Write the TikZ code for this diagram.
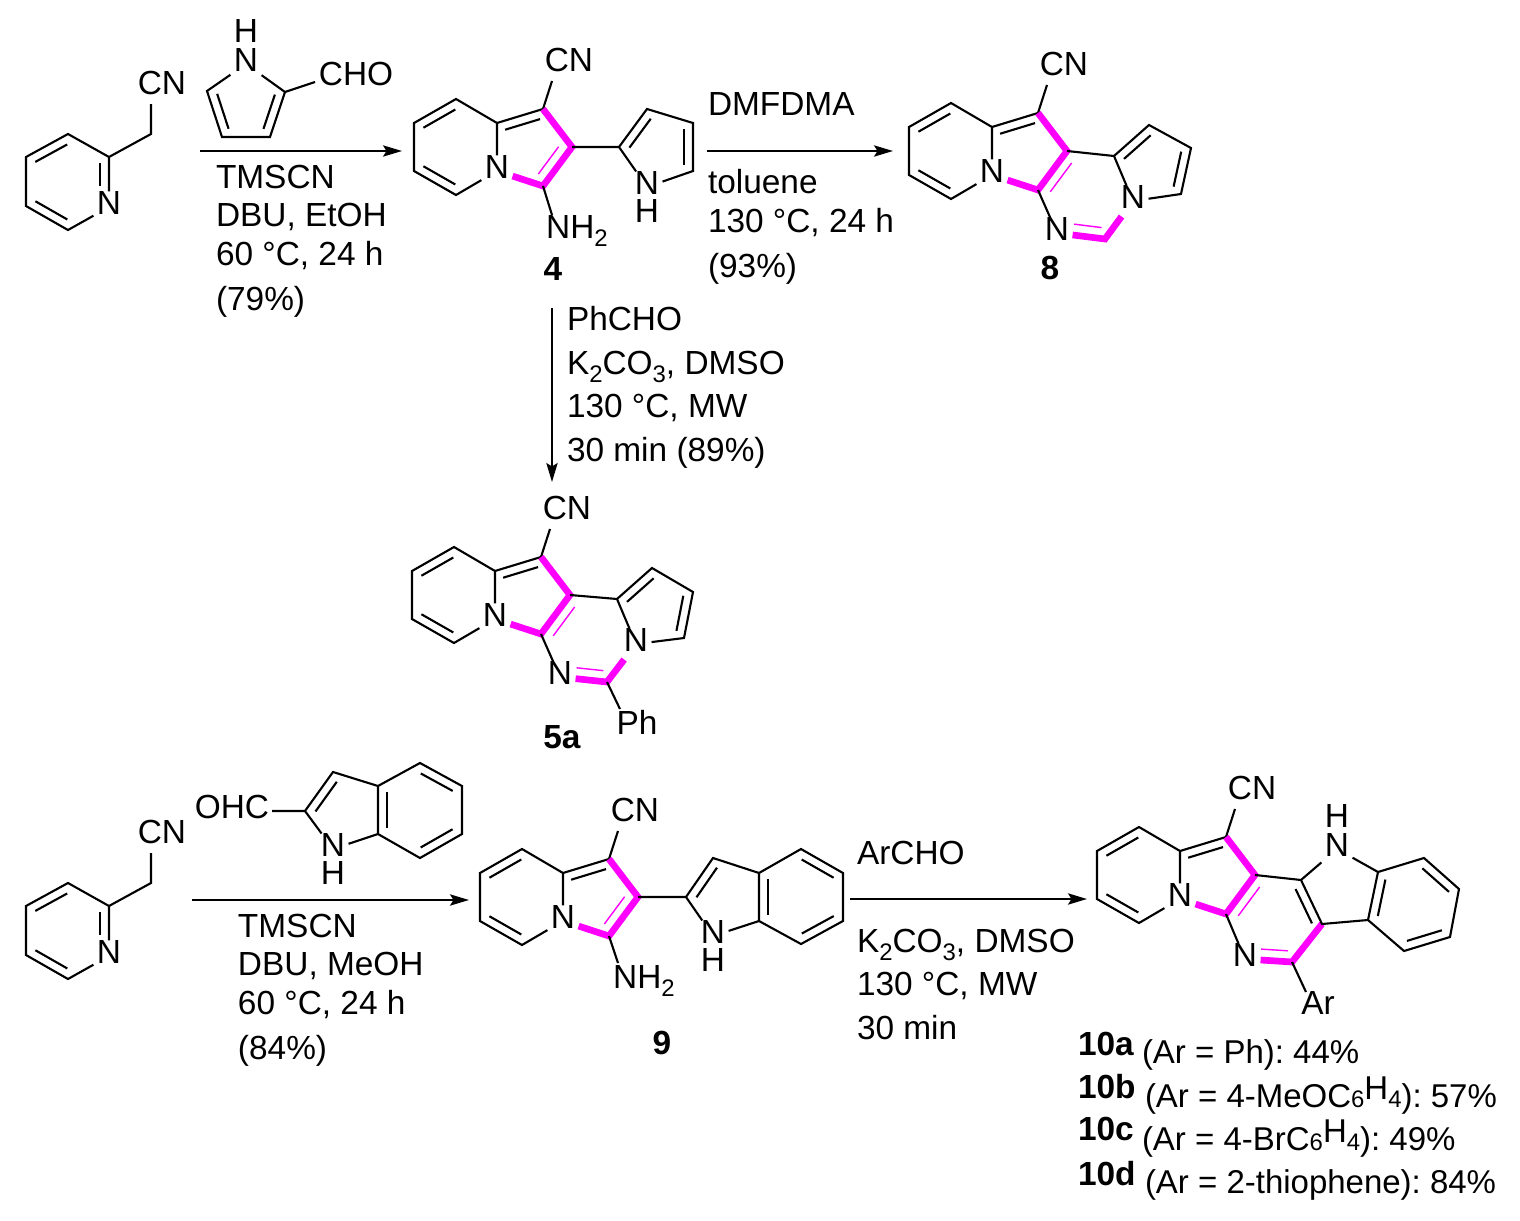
\documentclass[tikz,border=0pt]{standalone}
\usepackage{fontspec}
\setmainfont{Liberation Sans}
\usetikzlibrary{calc}
\usetikzlibrary{arrows.meta}
\definecolor{magenta}{RGB}{255,0,255}
\frenchspacing
% second line of a double bond, on the right of a -> b
\newcommand{\dbl}[4]{\draw[bond] ($(#1)!#3!(#2)!2.5pt!-90:(#2)$) -- ($(#1)!#4!(#2)!2.5pt!-90:(#2)$);}
\newcommand{\mdbl}[4]{\draw[tbond] ($(#1)!#3!(#2)!3.1pt!-90:(#2)$) -- ($(#1)!#4!(#2)!3.1pt!-90:(#2)$);}
\newcommand{\subt}[2][-2.3pt]{\raisebox{#1}{\fontsize{6.8}{7}\selectfont #2}}

\begin{document}
\begin{tikzpicture}[x=0.01cm, y=-0.01cm, >={Stealth[length=5.4pt,width=3.2pt,inset=1pt]},
every node/.style={font=\fontsize{9.5}{11}\selectfont},
bond/.style={line width=0.6pt},
hbond/.style={magenta,line width=1.9pt},
tbond/.style={magenta,line width=0.4pt},
atom/.style={inner xsep=1pt,inner ysep=0pt,outer sep=0pt,text depth=2.3pt},
hyd/.style={atom,text depth=0pt},
num/.style={atom,font=\fontsize{9.5}{11}\selectfont\bfseries},
txt/.style={anchor=base west,inner sep=0pt,outer sep=0pt},
yld/.style={txt,font=\fontsize{9.5}{11}\selectfont\bfseries},
leg/.style={txt,font=\fontsize{9.38}{11}\selectfont},
rxn/.style={bond,->},
indolizine/.pic={
\coordinate (p1) at (414,123);
\coordinate (p2) at (456,99);
\coordinate (p3) at (497,123);
\node [atom] (N) at (497,171) {N};
\coordinate (p5) at (456,195);
\coordinate (p6) at (414,171);
\coordinate (c1) at (543,109);
\coordinate (c2) at (572,147);
\coordinate (c3) at (543,186);
\node [atom] (CN) at (569,64) {CN};
\coordinate (e) at (552,81);
\draw [bond] (N) -- (p3) -- (p2) -- (p1) -- (p6) -- (p5) -- (N);
\draw [bond] (p3) -- (c1) -- (e);
\dbl{p1}{p2}{.12}{.88}
\dbl{p5}{p6}{.12}{.88}
\dbl{p3}{c1}{.12}{.88}
\draw [hbond] (c1) -- (c2) -- (c3) -- (N);
}]
\useasboundingbox (0,0) rectangle (1520,1221);

% 2-pyridylacetonitrile, top
\coordinate (a1) at (26,157);
\coordinate (b1) at (68,134);
\coordinate (c1) at (109,157);
\node [atom] (n1) at (109,207) {N};
\coordinate (d1) at (68,230);
\coordinate (e1) at (26,206);
\coordinate (f1) at (151,134);
\coordinate (g1) at (151,104);
\node [atom] (cn1) at (162,87) {CN};
\draw [bond] (n1) -- (c1) -- (b1) -- (a1) -- (e1) -- (d1) -- (n1);
\draw [bond] (c1) -- (f1) -- (g1);
\dbl{a1}{b1}{.12}{.88}
\dbl{d1}{e1}{.12}{.88}
\dbl{c1}{n1}{.12}{.57}

% pyrrole aldehyde
\node [atom] (n2) at (246,64) {N};
\node [hyd] (h2) at (246,31) {H};
\coordinate (a2) at (285,92);
\coordinate (b2) at (270,137);
\coordinate (c2) at (222,137);
\coordinate (d2) at (207,91);
\coordinate (e2) at (315,82);
\node [atom] (cho2) at (356,78) {CHO};
\draw [bond] (n2) -- (a2) -- (b2) -- (c2) -- (d2) -- (n2);
\draw [bond] (a2) -- (e2);
\dbl{a2}{b2}{.12}{.88}
\dbl{c2}{d2}{.12}{.88}

% first arrow
\coordinate (r1s) at (200,151);
\coordinate (r1e) at (402,151);
\draw [rxn] (r1s) -- (r1e);
\node [txt] (t1a) at (216,188) {TMSCN};
\node [txt] (t1b) at (216,226) {DBU, EtOH};
\node [txt] (t1c) at (216,265) {60 °C, 24 h};
\node [txt] (t1d) at (216,310) {(79\%)};

% compound 4
\pic (s4) at (0,0) {indolizine};
\mdbl{s4c2}{s4c3}{.16}{.86}
\coordinate (e4) at (552,215);
\node [atom] (nh4) at (577,231) {NH\subt{2}};
\draw [bond] (s4c3) -- (e4);
\coordinate (a4) at (619,147);
\coordinate (b4) at (647,109);
\coordinate (c4) at (693,123);
\coordinate (d4) at (693,171);
\node [atom] (n4) at (647,187) {N};
\node [hyd] (h4) at (647,211) {H};
\draw [bond] (s4c2) -- (a4) -- (b4) -- (c4) -- (d4) -- (n4) -- (a4);
\dbl{a4}{b4}{.12}{.88}
\dbl{c4}{d4}{.12}{.88}
\node [num] (l4) at (553,273) {4};

% second arrow
\coordinate (r2s) at (707,151);
\coordinate (r2e) at (893,151);
\draw [rxn] (r2s) -- (r2e);
\node [txt] (t2a) at (708,116) {DMFDMA};
\node [txt] (t2b) at (708,193) {toluene};
\node [txt] (t2c) at (708,232) {130 °C, 24 h};
\node [txt] (t2d) at (708,277) {(93\%)};

% compound 8
\pic (s8) at (495,4) {indolizine};
\mdbl{s8c3}{s8c2}{.12}{.86}
\node [atom] (n8) at (1057,233) {N};
\coordinate (a8) at (1105,239);
\node [atom] (m8) at (1133,201) {N};
\coordinate (b8) at (1114,156);
\coordinate (c8) at (1149,125);
\coordinate (d8) at (1191,148);
\coordinate (e8) at (1181,194);
\draw [bond] (s8c3) -- (n8);
\draw [hbond] (n8) -- (a8) -- (m8);
\draw [bond] (s8c2) -- (b8) -- (c8) -- (d8) -- (e8) -- (m8) -- (b8);
\dbl{b8}{c8}{.12}{.88}
\dbl{d8}{e8}{.12}{.88}
\mdbl{a8}{n8}{.1}{.67}
\node [num] (l8) at (1050,272) {8};

% third arrow
\coordinate (r3s) at (552,308);
\coordinate (r3e) at (552,482);
\draw [rxn] (r3s) -- (r3e);
\node [txt] (t3a) at (567,330) {PhCHO};
\node [txt] (t3b) at (567,374) {K\subt{2}CO\subt{3}, DMSO};
\node [txt] (t3c) at (567,417) {130 °C, MW};
\node [txt] (t3d) at (567,461) {30 min (89\%)};

% compound 5a
\pic (s5) at (-2,448) {indolizine};
\mdbl{s5c3}{s5c2}{.12}{.86}
\node [atom] (n5) at (560,677) {N};
\coordinate (a5) at (607,682);
\node [atom] (m5) at (636,644) {N};
\coordinate (b5) at (617,599);
\coordinate (c5) at (652,568);
\coordinate (d5) at (693,592);
\coordinate (e5) at (684,638);
\coordinate (f5) at (620,709);
\node [atom] (ph5) at (637,726) {Ph};
\draw [bond] (s5c3) -- (n5);
\draw [hbond] (n5) -- (a5) -- (m5);
\draw [bond] (a5) -- (f5);
\draw [bond] (s5c2) -- (b5) -- (c5) -- (d5) -- (e5) -- (m5) -- (b5);
\dbl{b5}{c5}{.12}{.88}
\dbl{d5}{e5}{.12}{.88}
\mdbl{a5}{n5}{.1}{.67}
\node [num] (l5) at (562,741) {5a};

% 2-pyridylacetonitrile, bottom
\coordinate (a6) at (26,906);
\coordinate (b6) at (68,883);
\coordinate (c6) at (109,906);
\node [atom] (n6) at (109,956) {N};
\coordinate (d6) at (68,979);
\coordinate (e6) at (26,955);
\coordinate (f6) at (151,883);
\coordinate (g6) at (151,853);
\node [atom] (cn6) at (162,836) {CN};
\draw [bond] (n6) -- (c6) -- (b6) -- (a6) -- (e6) -- (d6) -- (n6);
\draw [bond] (c6) -- (f6) -- (g6);
\dbl{a6}{b6}{.12}{.88}
\dbl{d6}{e6}{.12}{.88}
\dbl{c6}{n6}{.12}{.57}

% indole aldehyde
\node [atom] (ohc7) at (232,811) {OHC};
\coordinate (g7) at (272,811);
\coordinate (a7) at (305,811);
\coordinate (b7) at (333,772);
\coordinate (c7) at (378,786);
\coordinate (d7) at (378,834);
\node [atom] (n7) at (333,849) {N};
\node [hyd] (h7) at (333,873) {H};
\coordinate (e7) at (420,763);
\coordinate (f7) at (462,786);
\coordinate (i7) at (462,834);
\coordinate (j7) at (420,858);
\draw [bond] (g7) -- (a7) -- (b7) -- (c7) -- (d7) -- (n7) -- (a7);
\draw [bond] (c7) -- (e7) -- (f7) -- (i7) -- (j7) -- (d7);
\dbl{a7}{b7}{.12}{.88}
\dbl{d7}{c7}{.12}{.88}
\dbl{e7}{f7}{.12}{.88}
\dbl{i7}{j7}{.12}{.88}

% fourth arrow
\coordinate (r4s) at (192,900);
\coordinate (r4e) at (469,900);
\draw [rxn] (r4s) -- (r4e);
\node [txt] (t4a) at (238,937) {TMSCN};
\node [txt] (t4b) at (238,975) {DBU, MeOH};
\node [txt] (t4c) at (238,1014) {60 °C, 24 h};
\node [txt] (t4d) at (238,1059) {(84\%)};

% compound 9
\pic (s9) at (66,750) {indolizine};
\mdbl{s9c2}{s9c3}{.16}{.86}
\coordinate (e9) at (618,963);
\node [atom] (nh9) at (644,981) {NH\subt{2}};
\draw [bond] (s9c3) -- (e9);
\coordinate (a9) at (686,897);
\coordinate (b9) at (713,858);
\coordinate (c9) at (759,873);
\coordinate (d9) at (759,921);
\node [atom] (n9) at (713,936) {N};
\node [hyd] (h9) at (713,960) {H};
\coordinate (f9) at (801,849);
\coordinate (g9) at (843,873);
\coordinate (i9) at (843,921);
\coordinate (j9) at (801,944);
\draw [bond] (s9c2) -- (a9) -- (b9) -- (c9) -- (d9) -- (n9) -- (a9);
\draw [bond] (c9) -- (f9) -- (g9) -- (i9) -- (j9) -- (d9);
\dbl{a9}{b9}{.12}{.88}
\dbl{d9}{c9}{.12}{.88}
\dbl{f9}{g9}{.12}{.88}
\dbl{i9}{j9}{.12}{.88}
\node [num] (l9) at (662,1047) {9};

% fifth arrow
\coordinate (r5s) at (850,899);
\coordinate (r5e) at (1087,899);
\draw [rxn] (r5s) -- (r5e);
\node [txt] (t5a) at (857,864) {ArCHO};
\node [txt] (t5b) at (857,952) {K\subt{2}CO\subt{3}, DMSO};
\node [txt] (t5c) at (857,995) {130 °C, MW};
\node [txt] (t5d) at (857,1039) {30 min};

% compound 10
\pic (s10) at (683,728) {indolizine};
\mdbl{s10c3}{s10c2}{.12}{.86}
\node [atom] (n10) at (1245,959) {N};
\coordinate (a10) at (1292,962);
\coordinate (b10) at (1322,924);
\coordinate (c10) at (1301,880);
\node [atom] (m10) at (1337,849) {N};
\node [hyd] (h10) at (1337,816) {H};
\coordinate (k10) at (1378,872);
\coordinate (o10) at (1424,858);
\coordinate (q10) at (1459,889);
\coordinate (u10) at (1450,937);
\coordinate (v10) at (1404,951);
\coordinate (w10) at (1368,920);
\coordinate (f10) at (1306,992);
\node [atom] (ar10) at (1318,1007) {Ar};
\draw [bond] (s10c3) -- (n10);
\draw [hbond] (n10) -- (a10) -- (b10);
\draw [bond] (a10) -- (f10);
\draw [bond] (s10c2) -- (c10) -- (b10) -- (w10) -- (k10) -- (m10) -- (c10);
\draw [bond] (k10) -- (o10) -- (q10) -- (u10) -- (v10) -- (w10);
\dbl{c10}{b10}{.12}{.9}
\dbl{w10}{k10}{.12}{.88}
\dbl{o10}{q10}{.12}{.88}
\dbl{u10}{v10}{.12}{.88}
\mdbl{a10}{n10}{.1}{.67}

% yields
\node [yld] (y1) at (1078,1055) {10a};
\node [leg] (z1) at (1142,1063) {(Ar = Ph): 44\%};
\node [yld] (y2) at (1078,1098) {10b};
\node [leg] (z2) at (1145,1107) {(Ar = 4-MeOC\subt[-.2pt]{6}\raisebox{2.2pt}{H}\subt[-.2pt]{4}): 57\%};
\node [yld] (y3) at (1078,1140) {10c};
\node [leg] (z3) at (1142,1150) {(Ar = 4-BrC\subt[-.2pt]{6}\raisebox{2.2pt}{H}\subt[-.2pt]{4}): 49\%};
\node [yld] (y4) at (1078,1185) {10d};
\node [leg] (z4) at (1145,1193) {(Ar = 2-thiophene): 84\%};
\end{tikzpicture}
\end{document}
